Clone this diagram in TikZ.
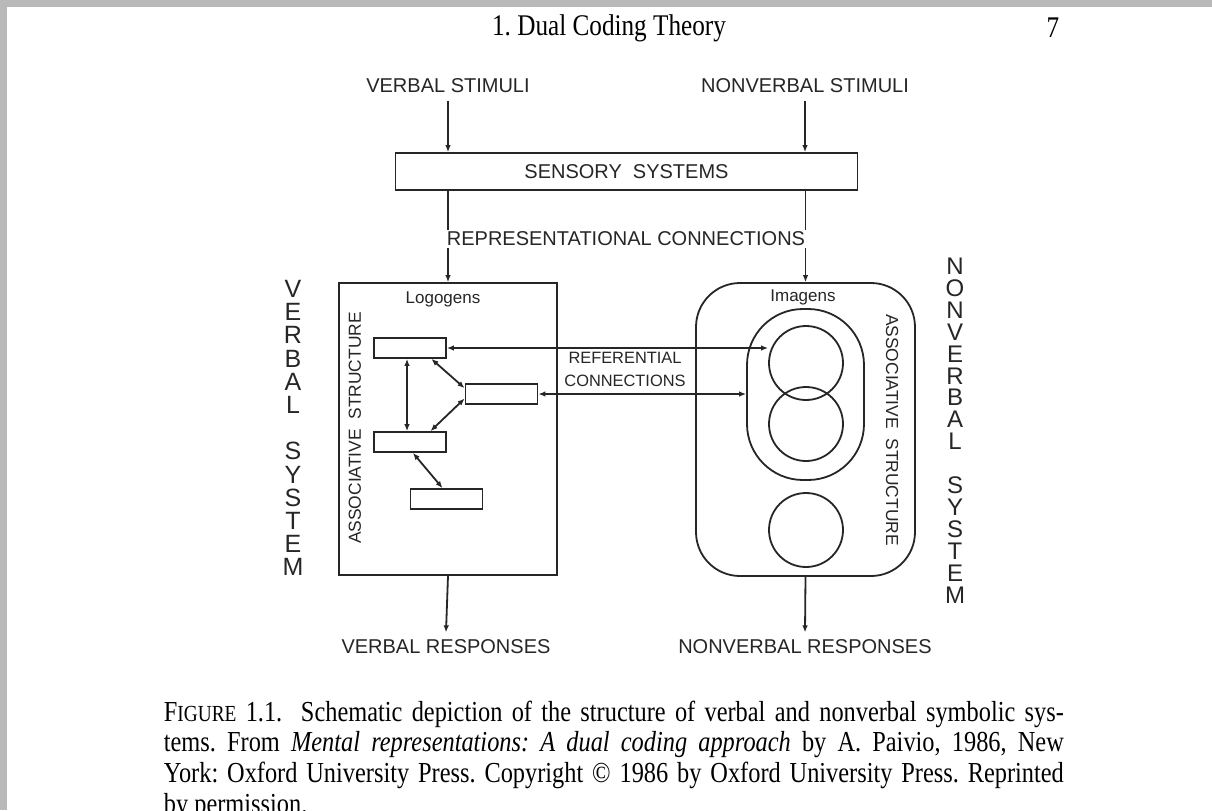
\documentclass[tikz,border=0pt]{standalone}
\usepackage{fontspec}
\setmainfont{Liberation Serif}
\newfontfamily\lettering{Liberation Sans}
\newfontfamily\capserif[FakeStretch=0.84]{Liberation Serif}
\usetikzlibrary{arrows.meta}
\frenchspacing
\tikzset{
  lbl/.style={font=\lettering\fontsize{10}{12}\selectfont, text=black!85},
  smalllbl/.style={font=\lettering\fontsize{8.5}{11.5}\selectfont, text=black!85},
  logo/.style={draw,rectangle,minimum width=36pt,minimum height=10pt,inner sep=0pt},
  onearrow/.style={-{Latex[length=3.5pt,width=2.8pt]}},
  twoarrow/.style={{Latex[length=3.5pt,width=2.8pt]}-{Latex[length=3.5pt,width=2.8pt]}},
  capline/.style={anchor=base west,inner sep=0pt,font=\capserif\fontsize{14.5}{16}\selectfont},
}
\begin{document}
\begin{tikzpicture}[x=0.5pt,y=-0.5pt,line width=0.9pt,draw=black!85]
\clip (0,0) rectangle (1212,810);
\fill[gray!55] (0,0) rectangle (1212,810);
\fill[white] (7,7) rectangle (1212,810);

% running head
\node[font=\capserif\fontsize{15}{17}\selectfont] (head) at (609,28) {1. Dual Coding Theory};
\node[font=\capserif\fontsize{15}{17}\selectfont] (page) at (1053,28) {7};

% stimuli and sensory systems
\node[lbl] (vstim) at (448,86) {VERBAL STIMULI};
\node[lbl] (nvstim) at (805,86) {NONVERBAL STIMULI};
\node[lbl,draw,minimum width=231pt,minimum height=18.5pt] (sens) at (626.5,171.5) {SENSORY\ \ SYSTEMS};

% the two systems
\node[draw,minimum width=109pt,minimum height=146pt] (vbox) at (448,429) {};
\node[draw,rounded corners=22pt,minimum width=109.5pt,minimum height=146.5pt] (nvbox) at (805.5,429.5) {};
\node[draw,rounded corners=28pt,minimum width=58.5pt,minimum height=85.5pt] (imset) at (805.5,394.5) {};
\node[draw,circle,minimum size=37pt,inner sep=0pt] (c1) at (806,363) {};
\node[draw,circle,minimum size=37pt,inner sep=0pt] (c2) at (806,424) {};
\node[draw,circle,minimum size=37pt,inner sep=0pt] (c3) at (806,530) {};

\node[logo] (l1) at (410,348) {};
\node[logo] (l2) at (501.5,394) {};
\node[logo] (l3) at (410,442) {};
\node[logo] (l4) at (446.5,499) {};

\node[smalllbl] (logogens) at (443,299) {Logogens};
\node[smalllbl] (imagens) at (803,297) {Imagens};
\node[smalllbl,font=\lettering\fontsize{8.7}{11}\selectfont,rotate=90] (vassoc) at (355,428) {ASSOCIATIVE\ \ STRUCTURE};
\node[smalllbl,font=\lettering\fontsize{8.7}{11}\selectfont,rotate=-90] (nvassoc) at (892,430) {ASSOCIATIVE\ \ STRUCTURE};
\node[smalllbl,align=center,font=\lettering\fontsize{8.2}{11.5}\selectfont] (refer) at (625,369) {REFERENTIAL\\CONNECTIONS};

\node[lbl,align=center,font=\lettering\fontsize{12.5}{11.6}\selectfont] (vsys) at (293,428) {V\\E\\R\\B\\A\\L\\[11.6pt]S\\Y\\S\\T\\E\\M};
\node[lbl,align=center,font=\lettering\fontsize{12}{10.95}\selectfont] (nvsys) at (955,430.5) {N\\O\\N\\V\\E\\R\\B\\A\\L\\[10.95pt]S\\Y\\S\\T\\E\\M};

\node[lbl] (vresp) at (446,647) {VERBAL RESPONSES};
\node[lbl] (nvresp) at (805,647) {NONVERBAL RESPONSES};

% connections
\path[draw,onearrow] (vstim.south) -- (vstim.south |- sens.north);
\path[draw,onearrow] (nvstim.south) -- (nvstim.south |- sens.north);
\path[draw,onearrow] (vbox.north |- sens.south) -- (vbox.north);
\path[draw,onearrow] (nvbox.north |- sens.south) -- (nvbox.north);
\node[lbl,fill=white,inner sep=1pt] (repr) at (626,239) {REPRESENTATIONAL CONNECTIONS};

\path[draw,twoarrow] (l1.east) -- (l1.east -| c1.west);
\path[draw,twoarrow] (l2.east) -- (l2.east -| imset.west);
\path[draw,twoarrow] ([xshift=-1.5pt]l1.south) -- ([xshift=-1.5pt]l3.north);
\path[draw,twoarrow] (l1.-27) -- (l2.171);
\path[draw,twoarrow] (l2.-173) -- (l3.28);
\path[draw,twoarrow] (l3.-75) -- (l4.110);

\path[draw,onearrow] (vbox.south) -- (vresp.north);
\path[draw,onearrow] (nvbox.south) -- (nvresp.north);

% caption
\node[capline] (cap1) at (163,721) {\makebox[450pt][s]{F{\fontsize{11.5}{13}\selectfont IGURE} 1.1.\ \ Schematic depiction of the structure of verbal and nonverbal symbolic sys-}};
\node[capline] (cap2) at (163,751) {\makebox[450pt][s]{tems. From \textit{Mental representations: A dual coding approach} by A. Paivio, 1986, New}};
\node[capline] (cap3) at (163,782) {\makebox[450pt][s]{York: Oxford University Press. Copyright \textcopyright\ 1986 by Oxford University Press. Reprinted}};
\node[capline] (cap4) at (163,813) {by permission.};
\end{tikzpicture}
\end{document}
